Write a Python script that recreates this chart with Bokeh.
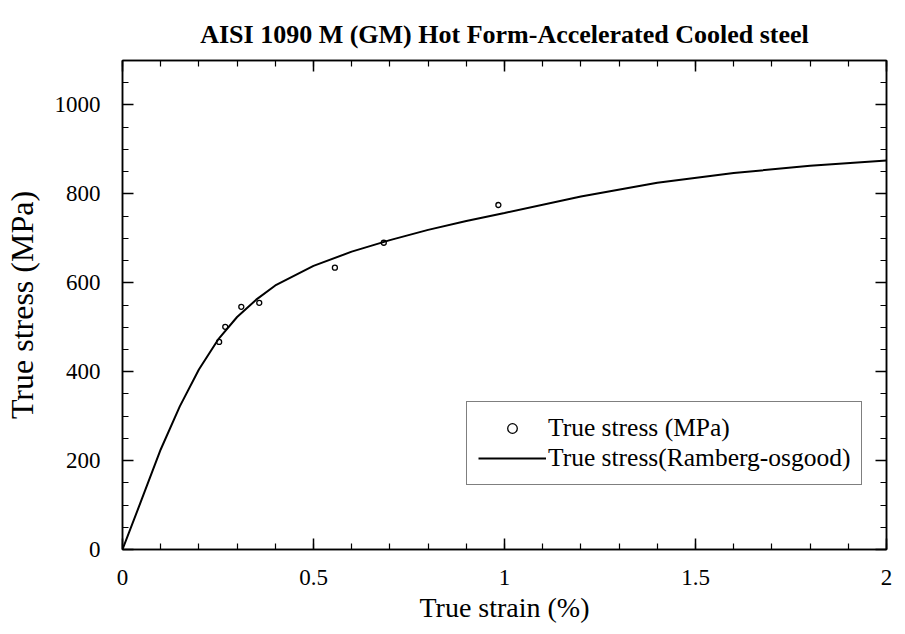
from bokeh.plotting import figure
from bokeh.models import LinearAxis, SingleIntervalTicker, Range1d, Title, CustomJSTickFormatter
from bokeh.embed import file_html
from bokeh.resources import INLINE

# Measured data points
strain_pts = [0.253, 0.269, 0.311, 0.358, 0.556, 0.684, 0.984]
stress_pts = [467, 501, 546, 555, 634, 690, 775]

# Ramberg-Osgood fitted curve
strain_fit = [0.0, 0.05, 0.1, 0.15, 0.2, 0.25, 0.3, 0.35, 0.4, 0.5, 0.6, 0.7,
              0.8, 0.9, 1.0, 1.2, 1.4, 1.6, 1.8, 2.0]
stress_fit = [0, 112, 225, 322, 405, 472, 523, 562, 594, 638, 670, 696,
              719, 739, 757, 794, 825, 847, 863, 875]

x_ticks = [0, 0.5, 1, 1.5, 2]
x_tick_labels = ["0", "0.5", "1", "1.5", "2"]

TITLE = "AISI 1090 M (GM) Hot Form-Accelerated Cooled steel"
SERIF = "Liberation Serif"

p = figure(frame_width=764, frame_height=489,
           min_border_left=122, min_border_top=60, min_border_right=9, min_border_bottom=68,
           x_range=Range1d(0, 2), y_range=Range1d(0, 1100),
           output_backend="svg", toolbar_location=None, title=None)

p.xgrid.visible = False
p.ygrid.visible = False
p.outline_line_color = "black"
p.outline_line_width = 1.5

def style_axis(ax, labels=True):
    ax.axis_line_color = "black"
    ax.axis_line_width = 1.5
    ax.major_tick_in = 11
    ax.major_tick_out = 0
    ax.minor_tick_in = 6
    ax.minor_tick_out = 0
    ax.major_tick_line_color = "black"
    ax.minor_tick_line_color = "black"
    ax.major_tick_line_width = 1.5
    ax.minor_tick_line_width = 1.2
    ax.major_label_text_font = SERIF
    ax.major_label_text_color = "black"
    ax.axis_label_text_font = SERIF
    ax.axis_label_text_font_style = "normal"
    ax.axis_label_text_color = "black"
    if not labels:
        ax.formatter = CustomJSTickFormatter(code="return ''")
        ax.major_label_standoff = 0

xa = p.xaxis[0]
xa.ticker = SingleIntervalTicker(interval=0.5, num_minor_ticks=5)
style_axis(xa)
overrides = {}
for t, s in zip(x_ticks, x_tick_labels):
    overrides[float(t)] = s
    if float(t).is_integer():
        overrides[int(t)] = s
xa.major_label_overrides = overrides
xa.major_label_text_font_size = "23px"
xa.major_label_standoff = 20
xa.axis_label = "True strain (%)"
xa.axis_label_text_font_size = "28px"
xa.axis_label_standoff = 4

ya = p.yaxis[0]
ya.ticker = SingleIntervalTicker(interval=200, num_minor_ticks=4)
style_axis(ya)
ya.major_label_text_font_size = "23px"
ya.major_label_standoff = 22
ya.axis_label = "True stress (MPa)"
ya.axis_label_text_font_size = "32px"
ya.axis_label_standoff = 12

top = LinearAxis(ticker=SingleIntervalTicker(interval=0.5, num_minor_ticks=5))
style_axis(top, labels=False)
p.add_layout(top, "above")
right = LinearAxis(ticker=SingleIntervalTicker(interval=200, num_minor_ticks=4))
style_axis(right, labels=False)
p.add_layout(right, "right")

p.add_layout(Title(text=TITLE, align="center", text_font=SERIF,
                   text_font_size="26px", text_font_style="bold",
                   text_color="black", standoff=24, offset=8), "above")

p.scatter(strain_pts, stress_pts, marker="circle", size=5, line_color="black",
          line_width=1.3, fill_color="white", legend_label="True stress (MPa)")
p.line(strain_fit, stress_fit, line_color="black", line_width=2,
       legend_label="True stress(Ramberg-osgood)")

lg = p.legend[0]
lg.location = (344, 64)
lg.label_text_font = SERIF
lg.label_text_font_size = "25.5px"
lg.label_text_color = "black"
lg.border_line_color = "black"
lg.border_line_width = 1.5
lg.padding = 11
lg.spacing = 0
lg.glyph_width = 68
lg.glyph_height = 24
lg.label_height = 24
lg.label_standoff = 2
lg.margin = 0
lg.background_fill_alpha = 1

open("out.html", "w").write(file_html(p, INLINE))
